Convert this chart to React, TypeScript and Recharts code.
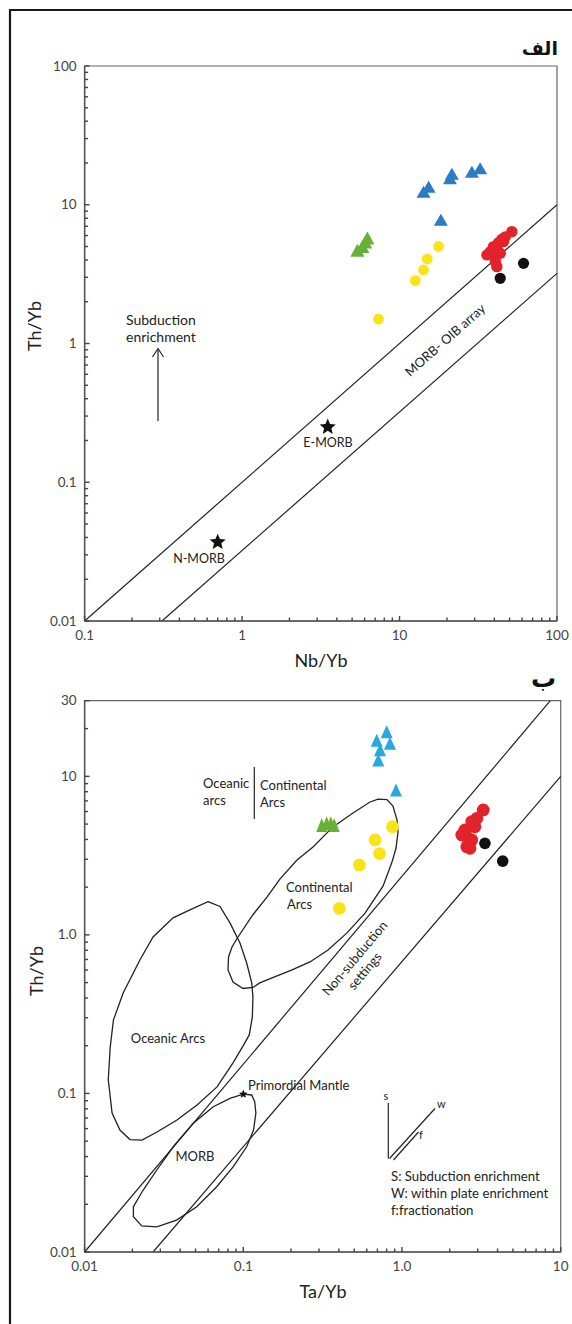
import React from 'react';
import { ScatterChart, Scatter, XAxis, YAxis, ReferenceLine, ReferenceArea } from 'recharts';

type Pt = { x: number; y: number };

// ---------- (الف) Th/Yb vs Nb/Yb ----------
const nbMajor = [0.1, 1, 10, 100];
const nbLabels = ['0.1', '1', '10', '100'];
const thMajorA = [0.01, 0.1, 1, 10, 100];
const thLabelsA = ['0.01', '0.1', '1', '10', '100'];

const morbOibUpper: Pt[] = [{ x: 0.1, y: 0.01 }, { x: 100, y: 10 }];
const morbOibLower: Pt[] = [{ x: 0.31, y: 0.01 }, { x: 100, y: 3.2 }];

const refMorb: Pt[] = [{ x: 0.7, y: 0.037 }, { x: 3.5, y: 0.25 }];

const greenA: Pt[] = [
  { x: 5.4, y: 4.7 }, { x: 5.8, y: 5.0 }, { x: 6.05, y: 5.4 }, { x: 6.25, y: 5.75 },
];
const blueA: Pt[] = [
  { x: 14.2, y: 12.4 }, { x: 15.3, y: 13.5 }, { x: 20.9, y: 15.5 }, { x: 21.5, y: 16.7 },
  { x: 28.8, y: 17.3 }, { x: 32.5, y: 18.3 }, { x: 18.3, y: 7.8 },
];
const yellowA: Pt[] = [
  { x: 7.35, y: 1.5 }, { x: 12.6, y: 2.84 }, { x: 14.2, y: 3.39 }, { x: 15.0, y: 4.07 }, { x: 17.7, y: 5.0 },
];
const redA: Pt[] = [
  { x: 51.7, y: 6.4 }, { x: 46.9, y: 5.86 }, { x: 44.7, y: 5.64 }, { x: 42.5, y: 5.33 },
  { x: 45.7, y: 5.42 }, { x: 39.5, y: 4.99 }, { x: 41.5, y: 4.86 }, { x: 37.7, y: 4.59 },
  { x: 35.9, y: 4.35 }, { x: 40.6, y: 4.23 }, { x: 43.6, y: 4.47 }, { x: 41.5, y: 3.58 },
  { x: 40.6, y: 3.89 },
];
const blackA: Pt[] = [{ x: 43.6, y: 2.95 }, { x: 61.3, y: 3.78 }];

// ---------- (ب) Th/Yb vs Ta/Yb ----------
const taMajor = [0.01, 0.1, 1, 10];
const taLabels = ['0.01', '0.1', '1.0', '10'];
const thMajorB = [0.01, 0.1, 1, 10, 30];
const thLabelsB = ['0.01', '0.1', '1.0', '10', '30'];

const arrayUpperB: Pt[] = [{ x: 0.01, y: 0.01 }, { x: 8.6, y: 30 }];
const arrayLowerB: Pt[] = [{ x: 0.027, y: 0.01 }, { x: 10, y: 10 }];

const continentalArcs: Pt[] = [
  { x: 0.706, y: 7.19 }, { x: 0.804, y: 7.14 }, { x: 0.877, y: 6.5 }, { x: 0.93, y: 5.31 },
  { x: 0.944, y: 4.46 }, { x: 0.917, y: 3.53 }, { x: 0.865, y: 2.88 }, { x: 0.759, y: 2.03 },
  { x: 0.585, y: 1.37 }, { x: 0.45, y: 1.03 }, { x: 0.342, y: 0.803 }, { x: 0.263, y: 0.675 },
  { x: 0.203, y: 0.601 }, { x: 0.156, y: 0.542 }, { x: 0.127, y: 0.498 }, { x: 0.115, y: 0.466 },
  { x: 0.0995, y: 0.459 }, { x: 0.0861, y: 0.505 }, { x: 0.0801, y: 0.601 }, { x: 0.0807, y: 0.726 },
  { x: 0.0849, y: 0.839 }, { x: 0.0926, y: 0.97 }, { x: 0.115, y: 1.34 }, { x: 0.141, y: 1.73 },
  { x: 0.17, y: 2.25 }, { x: 0.218, y: 2.97 }, { x: 0.275, y: 3.58 }, { x: 0.367, y: 4.8 },
  { x: 0.491, y: 5.87 }, { x: 0.629, y: 6.89 },
];
const oceanicArcs: Pt[] = [
  { x: 0.0599, y: 1.62 }, { x: 0.0713, y: 1.51 }, { x: 0.0824, y: 1.19 }, { x: 0.0953, y: 0.889 },
  { x: 0.105, y: 0.665 }, { x: 0.113, y: 0.498 }, { x: 0.115, y: 0.406 }, { x: 0.114, y: 0.303 },
  { x: 0.109, y: 0.234 }, { x: 0.0995, y: 0.199 }, { x: 0.0861, y: 0.156 }, { x: 0.0683, y: 0.11 },
  { x: 0.0511, y: 0.0845 }, { x: 0.0382, y: 0.068 }, { x: 0.0286, y: 0.0571 }, { x: 0.023, y: 0.0508 },
  { x: 0.0193, y: 0.0512 }, { x: 0.0167, y: 0.0588 }, { x: 0.0149, y: 0.0753 }, { x: 0.0141, y: 0.122 },
  { x: 0.0145, y: 0.196 }, { x: 0.0152, y: 0.291 }, { x: 0.0175, y: 0.43 }, { x: 0.0223, y: 0.695 },
  { x: 0.027, y: 0.97 }, { x: 0.0361, y: 1.28 }, { x: 0.0461, y: 1.44 },
];
const morbField: Pt[] = [
  { x: 0.1, y: 0.099 }, { x: 0.113, y: 0.0978 }, { x: 0.118, y: 0.0887 }, { x: 0.12, y: 0.075 },
  { x: 0.116, y: 0.0588 }, { x: 0.105, y: 0.0461 }, { x: 0.0865, y: 0.0345 }, { x: 0.068, y: 0.0258 },
  { x: 0.0509, y: 0.0193 }, { x: 0.038, y: 0.0159 }, { x: 0.0285, y: 0.0144 }, { x: 0.0229, y: 0.0146 },
  { x: 0.0203, y: 0.0167 }, { x: 0.0203, y: 0.0193 }, { x: 0.0234, y: 0.0246 }, { x: 0.0285, y: 0.0329 },
  { x: 0.0362, y: 0.0461 }, { x: 0.0484, y: 0.0648 }, { x: 0.0647, y: 0.0825 }, { x: 0.0824, y: 0.0932 },
];
const primordialMantle: Pt[] = [{ x: 0.1, y: 0.099 }];

const greenB: Pt[] = [
  { x: 0.312, y: 4.93 }, { x: 0.335, y: 5.06 }, { x: 0.356, y: 5.06 }, { x: 0.374, y: 4.93 },
];
const blueB: Pt[] = [
  { x: 0.801, y: 19.1 }, { x: 0.693, y: 16.9 }, { x: 0.84, y: 16.2 }, { x: 0.727, y: 14.7 },
  { x: 0.709, y: 12.7 }, { x: 0.917, y: 8.2 },
];
const yellowB: Pt[] = [
  { x: 0.871, y: 4.81 }, { x: 0.676, y: 3.97 }, { x: 0.722, y: 3.26 }, { x: 0.539, y: 2.76 }, { x: 0.403, y: 1.47 },
];
const redB: Pt[] = [
  { x: 3.25, y: 6.14 }, { x: 2.96, y: 5.43 }, { x: 2.75, y: 5.18 }, { x: 2.88, y: 4.81 },
  { x: 2.49, y: 4.59 }, { x: 2.56, y: 4.16 }, { x: 2.75, y: 3.97 }, { x: 2.38, y: 4.27 },
  { x: 2.56, y: 3.6 }, { x: 2.68, y: 3.52 },
];
const blackB: Pt[] = [{ x: 3.33, y: 3.78 }, { x: 4.31, y: 2.92 }];

// 1..9 per decade between lo and hi
const decadeTicks = (lo: number, hi: number) => {
  const out: number[] = [];
  for (let e = Math.round(Math.log10(lo)); e < Math.log10(hi); e++) {
    for (let k = 1; k <= 9; k++) {
      const v = Number((k * Math.pow(10, e)).toPrecision(6));
      if (v >= lo && v <= hi * 1.0001) out.push(v);
    }
  }
  if (!out.includes(hi)) out.push(hi);
  return out;
};

const FONT = 'Lato, "Open Sans", sans-serif';
const ARABIC = '"DejaVu Sans", "Noto Sans", sans-serif';
const INK = '#222';
const TICK_INK = '#444';

const majorIndex = (major: number[], v: number) =>
  major.findIndex((m) => Math.abs(m - v) / m < 1e-6);

const xTick = (major: number[], labels: string[]) => (props: any) => {
  const { x, y, payload } = props;
  const i = majorIndex(major, payload.value);
  const len = i >= 0 ? 5 : 3.5;
  return (
    <g>
      <line x1={x} x2={x} y1={y} y2={y - len} stroke={TICK_INK} strokeWidth={1.4} />
      {i >= 0 && (
        <text x={x} y={y + 19} textAnchor="middle" fontFamily={FONT} fontSize={13.5} fill={TICK_INK}>
          {labels[i]}
        </text>
      )}
    </g>
  );
};

const yTick = (major: number[], labels: string[]) => (props: any) => {
  const { x, y, payload } = props;
  const i = majorIndex(major, payload.value);
  const len = i >= 0 ? 5 : 3.5;
  return (
    <g>
      <line x1={x} x2={x + len} y1={y} y2={y} stroke={TICK_INK} strokeWidth={1.4} />
      {i >= 0 && (
        <text x={x - 8} y={y + 4.5} textAnchor="end" fontFamily={FONT} fontSize={13.5} fill={TICK_INK}>
          {labels[i]}
        </text>
      )}
    </g>
  );
};

const dot = (r: number, fill: string) => (p: any) => <circle cx={p.cx} cy={p.cy} r={r} fill={fill} />;

const tri = (w: number, h: number, fill: string) => (p: any) => (
  <polygon
    points={`${p.cx - w / 2},${p.cy + h / 2} ${p.cx + w / 2},${p.cy + h / 2} ${p.cx},${p.cy - h / 2}`}
    fill={fill}
  />
);

const star = (R: number, fill: string) => (p: any) => {
  const pts: string[] = [];
  for (let k = 0; k < 10; k++) {
    const rr = k % 2 === 0 ? R : R * 0.45;
    const a = -Math.PI / 2 + (k * Math.PI) / 5;
    pts.push(`${p.cx + rr * Math.cos(a)},${p.cy + rr * Math.sin(a)}`);
  }
  return <polygon points={pts.join(' ')} fill={fill} />;
};

const noMark = () => <g />;
const outline = { stroke: INK, strokeWidth: 1.3 };

const BLUE_A = '#2b7cc2';
const BLUE_B = '#29a8de';
const GREEN = '#67b136';
const YELLOW = '#fbe31a';
const RED = '#e3232a';
const BLACK = '#111';

const ChartA = () => (
  <ScatterChart width={572} height={680} margin={{ top: 66, right: 15, bottom: 29, left: 24.6 }}>
    <XAxis
      type="number"
      dataKey="x"
      scale="log"
      domain={[0.1, 100]}
      allowDataOverflow
      ticks={decadeTicks(0.1, 100)}
      interval={0}
      tickSize={0}
      tickMargin={0}
      height={30}
      axisLine={{ stroke: '#555', strokeWidth: 1.5 }}
      tickLine={false}
      tick={xTick(nbMajor, nbLabels)}
    />
    <YAxis
      type="number"
      dataKey="y"
      scale="log"
      domain={[0.01, 100]}
      allowDataOverflow
      ticks={decadeTicks(0.01, 100)}
      interval={0}
      tickSize={0}
      tickMargin={0}
      width={60}
      axisLine={{ stroke: '#555', strokeWidth: 1.5 }}
      tickLine={false}
      tick={yTick(thMajorA, thLabelsA)}
    />
    <ReferenceArea x1={0.1} x2={100} y1={0.01} y2={100} fill="none" stroke="#666" strokeWidth={1.2} ifOverflow="visible" />
    <ReferenceLine segment={morbOibUpper} stroke={INK} strokeWidth={1.2} ifOverflow="visible" />
    <ReferenceLine segment={morbOibLower} stroke={INK} strokeWidth={1.2} ifOverflow="visible" />
    <Scatter data={refMorb} shape={star(8.5, BLACK)} isAnimationActive={false} />
    <Scatter data={greenA} shape={tri(14, 13, GREEN)} isAnimationActive={false} />
    <Scatter data={blueA} shape={tri(14, 12, BLUE_A)} isAnimationActive={false} />
    <Scatter data={yellowA} shape={dot(5.4, YELLOW)} isAnimationActive={false} />
    <Scatter data={redA} shape={dot(5.7, RED)} isAnimationActive={false} />
    <Scatter data={blackA} shape={dot(5.6, BLACK)} isAnimationActive={false} />
  </ScatterChart>
);

const ChartB = () => (
  <ScatterChart width={572} height={684} margin={{ top: 60.7, right: 11.3, bottom: 42, left: 24.6 }}>
    <XAxis
      type="number"
      dataKey="x"
      scale="log"
      domain={[0.01, 10]}
      allowDataOverflow
      ticks={decadeTicks(0.01, 10)}
      interval={0}
      tickSize={0}
      tickMargin={0}
      height={30}
      axisLine={{ stroke: '#555', strokeWidth: 1.5 }}
      tickLine={false}
      tick={xTick(taMajor, taLabels)}
    />
    <YAxis
      type="number"
      dataKey="y"
      scale="log"
      domain={[0.01, 30]}
      allowDataOverflow
      ticks={decadeTicks(0.01, 30)}
      interval={0}
      tickSize={0}
      tickMargin={0}
      width={60}
      axisLine={{ stroke: '#555', strokeWidth: 1.5 }}
      tickLine={false}
      tick={yTick(thMajorB, thLabelsB)}
    />
    <ReferenceArea x1={0.01} x2={10} y1={0.01} y2={30} fill="none" stroke="#666" strokeWidth={1.2} ifOverflow="visible" />
    <ReferenceLine segment={arrayUpperB} stroke={INK} strokeWidth={1.2} ifOverflow="visible" />
    <ReferenceLine segment={arrayLowerB} stroke={INK} strokeWidth={1.2} ifOverflow="visible" />
    <Scatter data={oceanicArcs} line={outline} lineJointType="linearClosed" shape={noMark} isAnimationActive={false} />
    <Scatter data={continentalArcs} line={outline} lineJointType="linearClosed" shape={noMark} isAnimationActive={false} />
    <Scatter data={morbField} line={outline} lineJointType="linearClosed" shape={noMark} isAnimationActive={false} />
    <Scatter data={primordialMantle} shape={star(4.5, BLACK)} isAnimationActive={false} />
    <Scatter data={greenB} shape={tri(11, 14, GREEN)} isAnimationActive={false} />
    <Scatter data={blueB} shape={tri(12, 13, BLUE_B)} isAnimationActive={false} />
    <Scatter data={yellowB} shape={dot(6.4, YELLOW)} isAnimationActive={false} />
    <Scatter data={redB} shape={dot(6.4, RED)} isAnimationActive={false} />
    <Scatter data={blackB} shape={dot(5.8, BLACK)} isAnimationActive={false} />
  </ScatterChart>
);

const txt = { fontFamily: FONT, fill: INK } as const;

const Annotations = () => (
  <svg width={572} height={1324} style={{ position: 'absolute', left: 0, top: 0, pointerEvents: 'none' }}>
    <path d="M10 1324 V10 H572" stroke="#1a1a1a" strokeWidth={2.2} fill="none" />

    {/* panel الف */}
    <text x={558} y={55} textAnchor="end" fontFamily={ARABIC} fontWeight={700} fontSize={19} fill="#111">الف</text>
    <text x={36} y={326} transform="rotate(-90 36 326)" textAnchor="middle" dominantBaseline="middle" fontSize={18} {...txt}>Th/Yb</text>
    <text x={321} y={662} textAnchor="middle" dominantBaseline="middle" fontSize={18} {...txt}>Nb/Yb</text>
    <text x={126} y={325} fontSize={14} {...txt}>Subduction</text>
    <text x={126} y={342} fontSize={14} {...txt}>enrichment</text>
    <line x1={158} y1={421} x2={158} y2={349} stroke={INK} strokeWidth={1.2} />
    <path d="M152.5 357 L158 348.5 L163.5 357" stroke={INK} strokeWidth={1.2} fill="none" />
    <text x={328} y={447} textAnchor="middle" fontSize={12.5} {...txt}>E-MORB</text>
    <text x={199} y={563} textAnchor="middle" fontSize={12.5} {...txt}>N-MORB</text>
    <text x={446} y={341} transform="rotate(-41.4 446 341)" textAnchor="middle" dominantBaseline="middle" fontSize={13} {...txt}>MORB- OIB array</text>

    {/* panel ب */}
    <text x={556} y={687} textAnchor="end" fontFamily={ARABIC} fontWeight={700} fontSize={25} fill="#111">ب</text>
    <text x={38} y={971} transform="rotate(-90 38 971)" textAnchor="middle" dominantBaseline="middle" fontSize={18} {...txt}>Th/Yb</text>
    <text x={323} y={1293} textAnchor="middle" dominantBaseline="middle" fontSize={18} {...txt}>Ta/Yb</text>
    <text x={203} y={788} fontSize={13} {...txt}>Oceanic</text>
    <text x={203} y={805} fontSize={13} {...txt}>arcs</text>
    <line x1={254.3} y1={767} x2={254.3} y2={819} stroke={INK} strokeWidth={1.2} />
    <text x={260} y={790} fontSize={13} {...txt}>Continental</text>
    <text x={260} y={807} fontSize={13} {...txt}>Arcs</text>
    <text x={286} y={892} fontSize={13} {...txt}>Continental</text>
    <text x={287} y={909} fontSize={13} {...txt}>Arcs</text>
    <text x={355.7} y={959} transform="rotate(-49.9 355.7 959)" textAnchor="middle" dominantBaseline="middle" fontSize={13} {...txt}>Non-subduction</text>
    <text x={365.7} y={971.7} transform="rotate(-49.9 365.7 971.7)" textAnchor="middle" dominantBaseline="middle" fontSize={13} {...txt}>settings</text>
    <text x={168} y={1040} textAnchor="middle" dominantBaseline="middle" fontSize={13} {...txt}>Oceanic Arcs</text>
    <text x={248} y={1090} fontSize={13} {...txt}>Primordial Mantle</text>
    <text x={195} y={1158} textAnchor="middle" dominantBaseline="middle" fontSize={13} {...txt}>MORB</text>

    {/* enrichment vectors */}
    <line x1={388.3} y1={1103} x2={388.3} y2={1158.5} stroke={INK} strokeWidth={1.2} />
    <line x1={389.5} y1={1158.5} x2={435} y2={1108.5} stroke={INK} strokeWidth={1.2} />
    <line x1={393.5} y1={1160} x2={418.5} y2={1132} stroke={INK} strokeWidth={1.2} />
    <text x={386} y={1100} textAnchor="middle" fontSize={11} {...txt}>s</text>
    <text x={437} y={1108} fontSize={11} {...txt}>w</text>
    <text x={419} y={1139} fontSize={11} {...txt}>f</text>
    <text x={391} y={1181} fontSize={13.2} {...txt}>S: Subduction enrichment</text>
    <text x={391} y={1198} fontSize={13.2} {...txt}>W: within plate enrichment</text>
    <text x={391} y={1215} fontSize={13.2} {...txt}>f:fractionation</text>
  </svg>
);

export default function App() {
  return (
    <div style={{ position: 'absolute', left: 0, top: 0, width: 572, height: 1324, overflow: 'hidden', background: '#fff' }}>
      <div style={{ position: 'absolute', left: 0, top: 0 }}>
        <ChartA />
      </div>
      <div style={{ position: 'absolute', left: 0, top: 640 }}>
        <ChartB />
      </div>
      <Annotations />
    </div>
  );
}
